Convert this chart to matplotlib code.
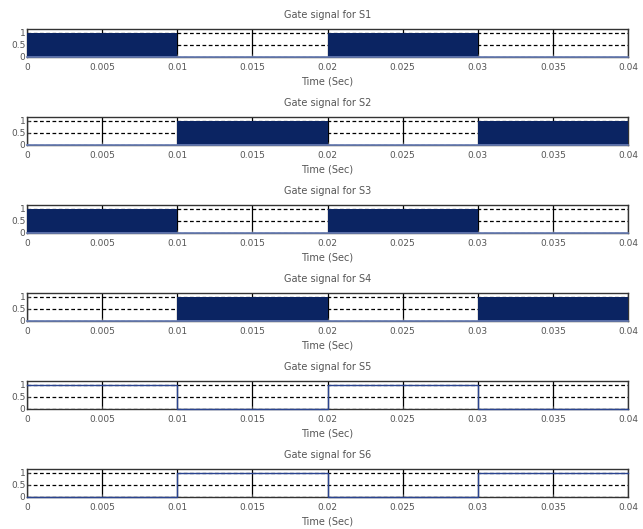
import numpy as np
import matplotlib.pyplot as plt

plt.rcParams['font.family'] = ['DejaVu Sans Condensed', 'Liberation Sans Narrow', 'DejaVu Sans']

# switching intervals (s) and gate state in each interval
t_edges = [0, 0.01, 0.02, 0.03, 0.04]
gate_names = ['S1', 'S2', 'S3', 'S4', 'S5', 'S6']
gate_states = [
    [1, 0, 1, 0],
    [0, 1, 0, 1],
    [1, 0, 1, 0],
    [0, 1, 0, 1],
    [1, 0, 1, 0],
    [0, 1, 0, 1],
]
# S1-S4 are chopped by the high frequency carrier, S5/S6 are plain square waves
gate_pwm = [True, True, True, True, False, False]

xticks = [0, 0.005, 0.01, 0.015, 0.02, 0.025, 0.03, 0.035, 0.04]
xticklabels = ['0', '0.005', '0.01', '0.015', '0.02', '0.025', '0.03', '0.035', '0.04']
yticks = [0, 0.5, 1]
yticklabels = ['0', '0.5', '1']

fill_col = '#0b2462'
line_col = '#2a4490'
txt_col = '#555555'

W, H = 643, 529
fig = plt.figure(figsize=(W / 100, H / 100), dpi=100)

left, right = 27, 628
ax_h = 27.5
for k, name in enumerate(gate_names):
    top = 29 + 88 * k
    ax = fig.add_axes([left / W, 1 - (top + ax_h) / H, (right - left) / W, ax_h / H])
    st = gate_states[k]
    xs = np.repeat(t_edges, 2)[1:-1]
    ys = np.repeat(st, 2)
    if gate_pwm[k]:
        ax.fill_between(xs, 0, ys, color=fill_col, linewidth=0, zorder=3)
        ax.plot(xs, ys * 0, color='#6a7fb8', lw=1.2, zorder=4, clip_on=False)
    else:
        ax.step(t_edges, st + [st[-1]], where='post', color=line_col, lw=1.0,
                zorder=4, clip_on=False)
    ax.set_xlim(0, 0.04)
    ax.set_ylim(0, 1.17)
    ax.set_xticks(xticks)
    ax.set_xticklabels(xticklabels)
    ax.set_yticks(yticks)
    ax.set_yticklabels(yticklabels)
    ax.tick_params(labelsize=6.5, length=2, width=0.6, direction='in', pad=5,
                   colors=txt_col)
    ax.tick_params(axis='y', pad=1)
    ax.grid(axis='y', color='black', ls=(0, (3, 2)), lw=0.9, zorder=1)
    ax.grid(axis='x', color='black', ls='-', lw=0.9, zorder=1)
    for s in ax.spines.values():
        s.set_linewidth(1.0)
        s.set_color('#333333')
    ax.set_title('Gate signal for ' + name, fontsize=7, pad=8, color=txt_col)
    ax.set_xlabel('Time (Sec)', fontsize=7, labelpad=3, color=txt_col)

fig.savefig('out.png', dpi=100)
